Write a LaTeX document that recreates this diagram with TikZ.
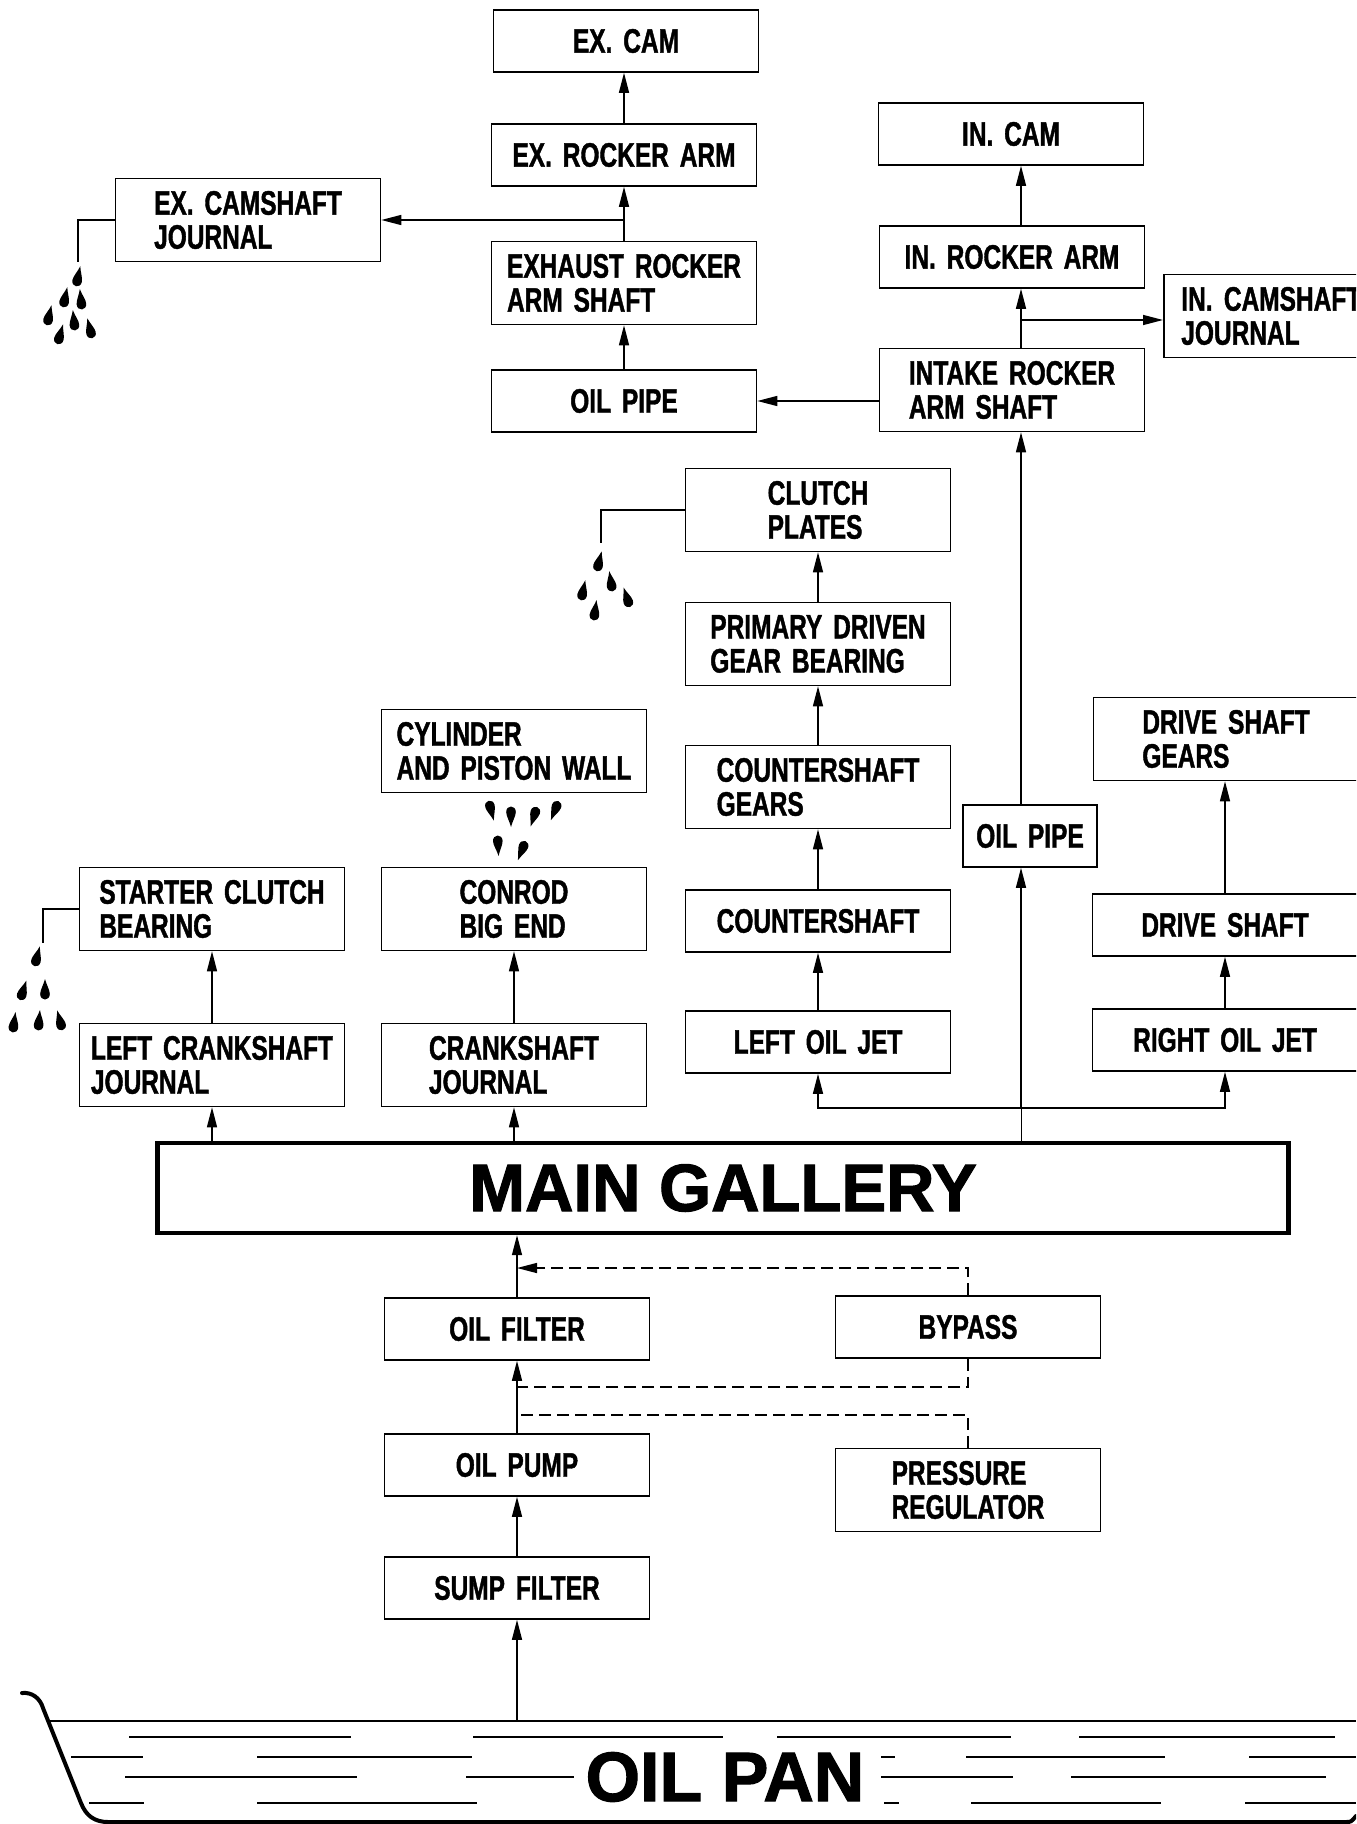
\documentclass[tikz,border=0pt]{standalone}
\usepackage{fontspec}
\setmainfont{Liberation Sans}
\newfontfamily\partfont{Liberation Sans}[FakeStretch=0.72, WordSpace=1.6, FakeBold=1.2]
\newfontfamily\bigfont{Liberation Sans}[FakeBold=1.6]
\usepackage{tikz}
\usetikzlibrary{arrows.meta}
\frenchspacing

% one drop of oil: centre x, centre y, tilt (tip up when tilt is 0)
\newcommand{\oildrop}[3]{%
  \fill[shift={(#1,#2)}, rotate=#3] (0,-11) .. controls (1.5,-5) and (4.8,0) .. (4.8,4)
    .. controls (4.8,7.5) and (2.5,9.5) .. (0,9.5) .. controls (-2.5,9.5) and (-4.8,7.5) .. (-4.8,4)
    .. controls (-4.8,0) and (-1.5,-5) .. (0,-11) -- cycle;}

\begin{document}
\begin{tikzpicture}[
            x=0.5pt, y=-0.5pt,
            part/.style={draw, line width=0.8pt, minimum width=132.5pt,
            minimum height=31pt, inner sep=2pt, align=left,
            font=\partfont\bfseries\fontsize{17}{17}\selectfont},
            part2/.style={part, minimum height=41.5pt},
            gal/.style={draw, line width=2.2pt, minimum width=565.5pt,
            minimum height=45pt, font=\bigfont\bfseries\fontsize{33.5}{36}\selectfont},
            ar/.style={-{Triangle[length=10pt,width=5pt]}, line width=0.7pt},
            bp/.style={dash pattern=on 6pt off 3pt, line width=0.7pt},
            drip/.style={line width=0.6pt},
            pan/.style={line width=2pt, line cap=round},
            wave/.style={line width=0.7pt}
        ]
            \useasboundingbox (0,0) rectangle (1356,1824);
            \clip (0,0) rectangle (1356,1824);

% Exhaust side of the head
            \node[part]  (excam)    at (626,41)  {EX. CAM};
            \node[part]  (exrocker) at (624,155) {EX. ROCKER ARM};
            \node[part2] (exshaft)  at (624,283) {EXHAUST ROCKER\\ARM SHAFT};
            \node[part]  (pipetop)  at (624,401) {OIL PIPE};
            \node[part2] (excamj)   at (248,220) {EX. CAMSHAFT\\JOURNAL};

% Intake side of the head
            \node[part]  (incam)    at (1011,134) {IN. CAM};
            \node[part]  (inrocker) at (1012,257) {IN. ROCKER ARM};
            \node[part2] (inshaft)  at (1012,390) {INTAKE ROCKER\\ARM SHAFT};
            \node[part2, anchor=west, text width=115pt, inner xsep=8.5pt]
                                    (incamj)   at (1163,316) {IN. CAMSHAFT\\JOURNAL};

% Transmission stack + right jet
            \node[part2] (clutch)   at (818,510)  {CLUTCH\\PLATES};
            \node[part2] (pdgb)     at (818,644)  {PRIMARY DRIVEN\\GEAR BEARING};
            \node[part2] (csgears)  at (818,787)  {COUNTERSHAFT\\GEARS};
            \node[part]  (cs)       at (818,921)  {COUNTERSHAFT};
            \node[part]  (loj)      at (818,1042) {LEFT OIL JET};
            \node[part, minimum width=67pt] (pipemid) at (1030,836) {OIL PIPE};
            \node[part2] (dsgears)  at (1226,739) {DRIVE SHAFT\\GEARS};
            \node[part]  (ds)       at (1225,925) {DRIVE SHAFT};
            \node[part]  (roj)      at (1225,1040) {RIGHT OIL JET};

% Crank side
            \node[part2] (cylinder) at (514,751)  {CYLINDER\\AND PISTON WALL};
            \node[part2] (conrod)   at (514,909)  {CONROD\\BIG END};
            \node[part2] (cj)       at (514,1065) {CRANKSHAFT\\JOURNAL};
            \node[part2] (scb)      at (212,909)  {STARTER CLUTCH\\BEARING};
            \node[part2] (lcj)      at (212,1065) {LEFT CRANKSHAFT\\JOURNAL};

% Gallery and the pump side
            \node[gal]   (gallery)  at (723,1188) {MAIN GALLERY};
            \node[part]  (filter)   at (517,1329) {OIL FILTER};
            \node[part]  (bypass)   at (968,1327) {BYPASS};
            \node[part]  (pump)     at (517,1465) {OIL PUMP};
            \node[part2] (preg)     at (968,1490) {PRESSURE\\REGULATOR};
            \node[part]  (sump)     at (517,1588) {SUMP FILTER};

% feed from the gallery to the jets and up the oil pipe
            \coordinate (jet)  at (1021,1108);
            \coordinate (inbr) at (1021,320);
            \draw (jet |- gallery.north) -- (jet);
            \draw[ar] (jet) -| (loj.south);
            \draw[ar] (jet) -| (roj.south);
            \draw[ar] (jet) -- (jet |- pipemid.south);
            \draw[ar] (jet |- pipemid.north) -- (jet |- inshaft.south);
            \draw[ar] (jet |- inshaft.north) -- (jet |- inrocker.south);
            \draw[ar] (jet |- inrocker.north) -- (jet |- incam.south);
            \draw[ar] (inbr) -- (inbr -| incamj.west);
            \draw[ar] (inshaft.west |- pipetop) -- (pipetop.east);
            \draw[ar] (pipetop.north) -- (exshaft.south);
            \draw[ar] (exshaft.north) -- (exrocker.south);
            \draw[ar] (exrocker.north) -- (exrocker.north |- excam.south);
            \draw[ar] (exshaft.north |- excamj.east) -- (excamj.east);

            \foreach \a/\b in {loj/cs, cs/csgears, csgears/pdgb, pdgb/clutch}
                \draw[ar] (\a.north) -- (\b.south);
            \draw[ar] (roj.north) -- (ds.south);
            \draw[ar] (ds.north) -- (ds.north |- dsgears.south);

            \draw[ar] (lcj |- gallery.north) -- (lcj.south);
            \draw[ar] (lcj.north) -- (scb.south);
            \draw[ar] (cj |- gallery.north) -- (cj.south);
            \draw[ar] (cj.north) -- (conrod.south);

% pump, filters, bypass and regulator
            \coordinate (oil) at (517,1721);
            \coordinate (bp1) at (517,1268);
            \coordinate (bp2) at (517,1387);
            \coordinate (pr1) at (517,1415);
            \draw[ar] (oil) -- (sump.south);
            \draw[ar] (sump.north) -- (pump.south);
            \draw[ar] (pump.north) -- (filter.south);
            \draw[ar] (filter.north) -- (filter |- gallery.south);
            \draw[bp, ar] (bypass.north) |- (bp1);
            \draw[bp] (bypass.south) |- (bp2);
            \draw[bp] (preg.north) |- (pr1);

% drips
            \coordinate (dripa) at (78,262);
            \coordinate (dripb) at (601,543);
            \coordinate (dripc) at (43,943);
            \draw[drip] (excamj.west) -| (dripa);
            \draw[drip] (clutch.west) -| (dripb);
            \draw[drip] (scb.west) -| (dripc);
            \foreach \x/\y/\r in {78/277/-12, 65/298/-12, 81/300/6, 49/316/-13,
                74/321/6, 90/329/14, 60/335/-16,
                599/562/-14, 611/582/9, 583/591/-12, 627/598/18, 595/611/-8,
                37/957/-15, 23/991/-18, 45/990/0, 14/1023/-8, 39/1021/-5, 60/1021/15,
                491/810/195, 511/816/180, 534/816/162, 555/810/158, 498/845/183, 522/850/158}
                \oildrop{\x}{\y}{\r};

% oil pan
            \draw[pan] (22,1693) .. controls (32,1692) and (40,1698) .. (43,1708)
                -- (81,1803) .. controls (86,1816) and (95,1822) .. (108,1822)
                -- (1346,1822) .. controls (1351,1822) .. (1356,1816);
            \draw[line width=0.8pt] (48,1721) -- (1356,1721);
            \foreach \y/\a/\b in {1737/129/351, 1737/473/723, 1737/777/1011, 1737/1079/1335,
                1757/71/143, 1757/257/472, 1757/881/895, 1757/966/1165, 1757/1249/1356,
                1777/125/357, 1777/466/574, 1777/881/1013, 1777/1071/1326,
                1803/89/144, 1803/257/477, 1803/884/899, 1803/971/1161, 1803/1245/1356}
                \draw[wave] (\a,\y) -- (\b,\y);
            \node[font=\bigfont\bfseries\fontsize{35}{36}\selectfont, inner sep=0pt] (pan) at (725,1777) {OIL PAN};
        \end{tikzpicture}
\end{document}
